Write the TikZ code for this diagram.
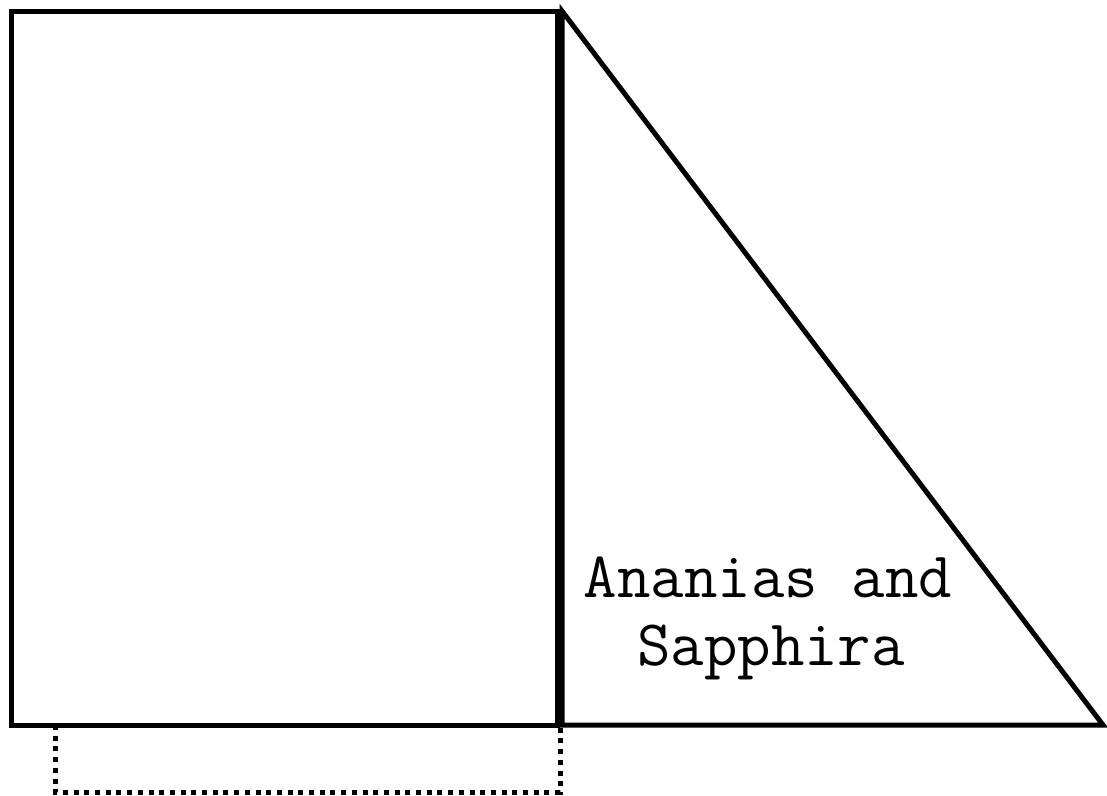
\documentclass[tikz,border=0pt]{standalone}
\begin{document}
\begin{tikzpicture}[x=1pt,y=-1pt,
  solidline/.style={line width=5pt,line join=miter},
  dotline/.style={line width=5pt,dash pattern=on 5pt off 5.7pt},
  lbl/.style={anchor=base,inner sep=0pt,font=\fontsize{65}{68}\selectfont\ttfamily}]
\useasboundingbox (0,0) rectangle (1107,795);
\coordinate (r1) at (11,11);
\coordinate (r2) at (557,725);
\coordinate (t1) at (562,11);
\coordinate (t2) at (562,725);
\coordinate (t3) at (1103,725);
\coordinate (d1) at (55,725);
\coordinate (d2) at (55,792);
\coordinate (d3) at (560,792);
\coordinate (d4) at (560,725);
\draw[dotline] (d1) -- (d2) -- (d3) -- (d4);
\draw[solidline] (r1) rectangle (r2);
\draw[solidline] (t1) -- (t2) -- (t3) -- cycle;
\node[lbl] (l1) at (768,597) {Ananias and};
\node[lbl] (l2) at (771,665) {Sapphira};
\end{tikzpicture}
\end{document}
